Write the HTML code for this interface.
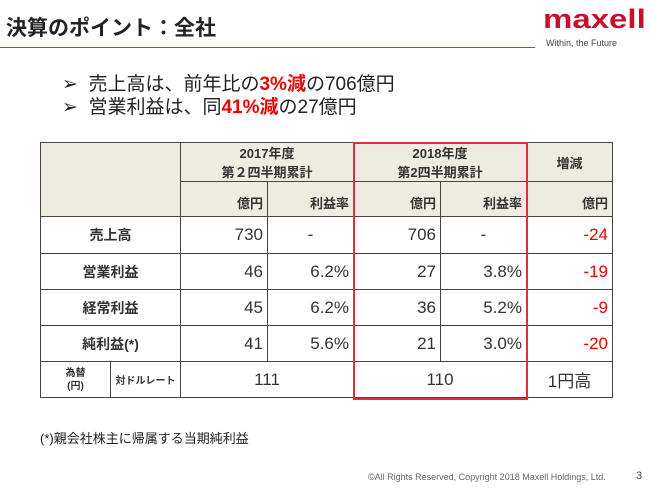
<!DOCTYPE html><html><head><meta charset="utf-8"><style>
body{margin:0;width:650px;height:488px;background:#fff;position:relative;overflow:hidden;font-family:"Liberation Sans","Noto Sans CJK JP",sans-serif;color:#222}
.a{position:absolute;white-space:nowrap}
table{position:absolute;left:40px;top:142px;border-collapse:collapse;font-size:17px}
td{border:1px solid #444;padding:0 4px;box-sizing:border-box;color:#333}
.h{background:#eeece1;font-weight:bold;font-size:13px;text-align:center}
.r{text-align:right}.c{text-align:center}.red{color:#e00}
.lb{font-weight:bold;font-size:14px;text-align:center;background:#fff}
</style></head><body>
<div class="a" style="left:6px;top:12px;font-size:21px;font-weight:bold">決算のポイント：全社</div>
<div class="a" style="left:0;top:47px;width:535px;height:1px;background:#c33"></div>
<div class="a" style="left:543px;top:4px;font-size:33px;font-weight:bold;color:#c8102e;letter-spacing:0px;transform:scaleY(0.8);transform-origin:left top">maxell</div>
<div class="a" style="left:546px;top:38px;font-size:9px;color:#444">Within, the Future</div>
<div class="a" style="left:62px;top:69px;font-size:19px">➢&nbsp;&nbsp;売上高は、前年比の<b class="red">3%減</b>の706億円</div>
<div class="a" style="left:62px;top:92px;font-size:19px">➢&nbsp;&nbsp;営業利益は、同<b class="red">41%減</b>の27億円</div>
<table>
<colgroup><col style="width:70px"><col style="width:70px"><col style="width:87px"><col style="width:86px"><col style="width:87px"><col style="width:86px"><col style="width:86px"></colgroup>
<tr style="height:39px"><td class="h" colspan="2" rowspan="2"></td><td class="h" colspan="2">2017年度<br>第２四半期累計</td><td class="h" colspan="2">2018年度<br>第2四半期累計</td><td class="h">増減</td></tr>
<tr style="height:35px"><td class="h r" style="vertical-align:bottom;padding-bottom:4px">億円</td><td class="h r" style="vertical-align:bottom;padding-bottom:4px">利益率</td><td class="h r" style="vertical-align:bottom;padding-bottom:4px">億円</td><td class="h r" style="vertical-align:bottom;padding-bottom:4px">利益率</td><td class="h r" style="vertical-align:bottom;padding-bottom:4px">億円</td></tr>
<tr style="height:37px"><td class="lb" colspan="2">売上高</td><td class="r">730</td><td class="c">-</td><td class="r">706</td><td class="c">-</td><td class="r red">-24</td></tr>
<tr style="height:36px"><td class="lb" colspan="2">営業利益</td><td class="r">46</td><td class="r">6.2%</td><td class="r">27</td><td class="r">3.8%</td><td class="r red">-19</td></tr>
<tr style="height:36px"><td class="lb" colspan="2">経常利益</td><td class="r">45</td><td class="r">6.2%</td><td class="r">36</td><td class="r">5.2%</td><td class="r red">-9</td></tr>
<tr style="height:36px"><td class="lb" colspan="2">純利益(*)</td><td class="r">41</td><td class="r">5.6%</td><td class="r">21</td><td class="r">3.0%</td><td class="r red">-20</td></tr>
<tr style="height:36px"><td class="c" style="font-size:10px;font-weight:bold;line-height:13px">為替<br>(円)</td><td class="c" style="font-size:10px;font-weight:bold">対ドルレート</td><td class="c" colspan="2">111</td><td class="c" colspan="2">110</td><td class="c">1円高</td></tr>
</table>
<div class="a" style="left:353px;top:142px;width:171px;height:254px;border:2px solid #e03030"></div>
<div class="a" style="left:40px;top:428px;font-size:13px">(*)親会社株主に帰属する当期純利益</div>
<div class="a" style="left:368px;top:472px;font-size:9px;color:#666">©All Rights Reserved, Copyright 2018 Maxell Holdings, Ltd.</div>
<div class="a" style="left:636px;top:470px;font-size:11px;color:#444">3</div>
</body></html>
